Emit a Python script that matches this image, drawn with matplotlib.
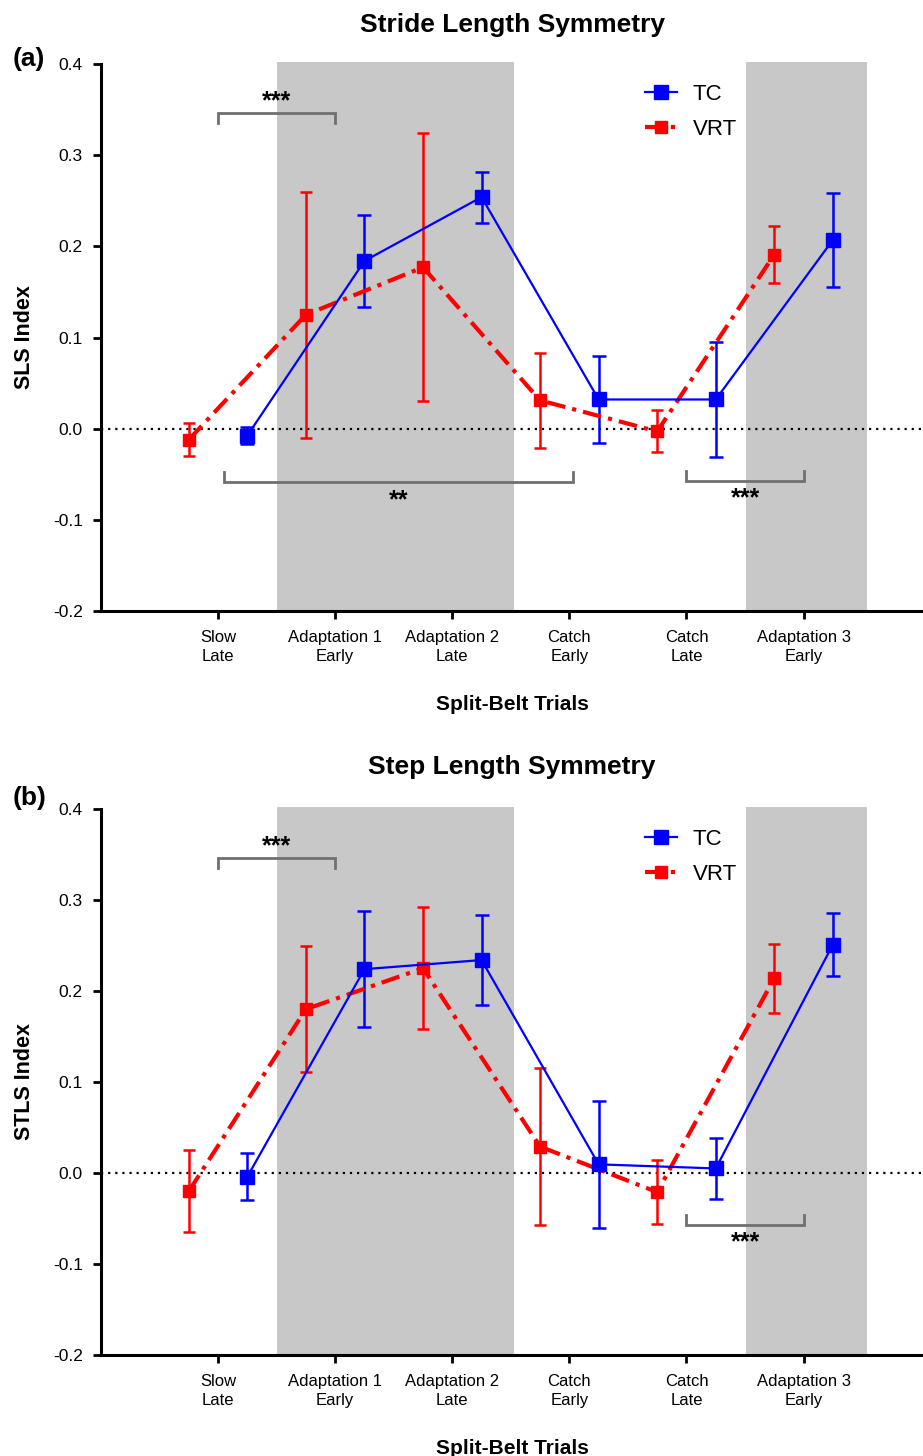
import numpy as np
import matplotlib
matplotlib.use("Agg")
import matplotlib.pyplot as plt

plt.rcParams['font.family'] = ['Liberation Sans', 'DejaVu Sans']

# categories on the x axis
trials = ['Slow\nLate', 'Adaptation 1\nEarly', 'Adaptation 2\nLate',
          'Catch\nEarly', 'Catch\nLate', 'Adaptation 3\nEarly']

# (a) stride length symmetry - means and error bars
sls_tc = [-0.0075, 0.184, 0.254, 0.032, 0.032, 0.207]
sls_tc_err = [0.0095, 0.050, 0.028, 0.048, 0.063, 0.0515]
sls_vrt = [-0.012, 0.125, 0.177, 0.031, -0.003, 0.191]
sls_vrt_err = [0.018, 0.135, 0.147, 0.052, 0.023, 0.031]

# (b) step length symmetry
stls_tc = [-0.004, 0.224, 0.234, 0.0095, 0.005, 0.251]
stls_tc_err = [0.026, 0.064, 0.049, 0.0695, 0.0335, 0.035]
stls_vrt = [-0.020, 0.180, 0.225, 0.029, -0.021, 0.214]
stls_vrt_err = [0.045, 0.069, 0.067, 0.0865, 0.035, 0.038]

# significance brackets: (from trial, to trial, height, stars, stars above?)
sls_brackets = [(1, 2, 0.3465, '***', True), (1.05, 4.03, -0.059, '**', False),
                (5, 6, -0.057, '***', False)]
stls_brackets = [(1, 2, 0.3465, '***', True), (5, 6, -0.057, '***', False)]

# shaded adaptation periods
shaded = [(1.5, 3.53), (5.51, 6.54)]

BLUE = '#0000ff'
RED = '#ff0000'
GREY = '#c8c8c8'
BRACKET = '#707070'

fig = plt.figure(figsize=(9.23, 14.56), dpi=100)
ax_a = fig.add_axes([101 / 923, 1 - 611 / 1456, 822 / 923, 547 / 1456])
ax_b = fig.add_axes([101 / 923, 1 - 1355 / 1456, 822 / 923, 546 / 1456])


def draw_panel(ax, tc, tc_err, vrt, vrt_err, brackets, ylabel):
    pos = np.arange(1, len(trials) + 1)
    x_tc = pos + 0.25
    x_vrt = pos - 0.25

    for lo, hi in shaded:
        ax.axvspan(lo, hi, ymin=0, ymax=1.004, color=GREY, lw=0, zorder=0, clip_on=False)
    ax.axhline(0, color='black', lw=1.6, linestyle=(0, (1, 2.2)), zorder=1)

    ax.errorbar(x_vrt, vrt, yerr=vrt_err, fmt='none', ecolor=RED, elinewidth=1.8,
                capsize=4.5, capthick=1.8, zorder=2)
    ax.errorbar(x_tc, tc, yerr=tc_err, fmt='none', ecolor=BLUE, elinewidth=1.8,
                capsize=4.8, capthick=1.8, zorder=3)
    ax.plot(x_vrt, vrt, color=RED, lw=3, dashes=(4.5, 1.7, 1, 1.7), marker='s',
            markersize=8, label='VRT', zorder=4)
    ax.plot(x_tc, tc, color=BLUE, lw=1.6, marker='s', markersize=9.5,
            label='TC', zorder=5)

    for x0, x1, h, stars, above in brackets:
        d = 0.011 if above else -0.011
        ax.plot([x0, x0, x1, x1], [h - d, h, h, h - d], color=BRACKET, lw=2,
                solid_joinstyle='miter', zorder=3)
        sy = h + 0.0045 if above else h - 0.027
        ax.text((x0 + x1) / 2, sy, stars, ha='center', va='baseline',
                fontsize=18, fontweight='bold')

    ax.set_xlim(0, 7.02)
    ax.set_ylim(-0.2, 0.4)
    ax.set_xticks(pos)
    ax.set_xticklabels(trials, fontsize=12, linespacing=1.3)
    ax.set_yticks(np.arange(-0.2, 0.41, 0.1))
    ax.set_yticklabels(['%.1f' % v for v in np.arange(-0.2, 0.41, 0.1)], fontsize=12.5)
    ax.tick_params(axis='x', length=6, width=2, pad=8)
    ax.tick_params(axis='y', length=6, width=2, pad=7)
    for s in ['top', 'right']:
        ax.spines[s].set_visible(False)
    for s in ['left', 'bottom']:
        ax.spines[s].set_linewidth(2.2)

    ax.set_ylabel(ylabel, fontsize=15.5, fontweight='bold', va='center')
    ax.yaxis.set_label_coords(-0.093, 0.5)
    ax.set_xlabel('Split-Belt Trials', fontsize=15, fontweight='bold', va='center')
    ax.xaxis.set_label_coords(0.5, -0.171)

    handles, labels = ax.get_legend_handles_labels()
    ax.legend(handles[::-1], labels[::-1], loc='upper left', bbox_to_anchor=(0.662, 0.963),
              frameon=False, fontsize=16, handlelength=1.45, handletextpad=0.7,
              labelspacing=0.63, borderpad=0, borderaxespad=0)


draw_panel(ax_a, sls_tc, sls_tc_err, sls_vrt, sls_vrt_err, sls_brackets, 'SLS Index')
draw_panel(ax_b, stls_tc, stls_tc_err, stls_vrt, stls_vrt_err, stls_brackets, 'STLS Index')

title_x = (101 + 923) / 2 / 923
fig.text(title_x, 1 - 32 / 1456, 'Stride Length Symmetry', ha='center', va='baseline',
         fontsize=19, fontweight='bold')
fig.text(title_x, 1 - 774 / 1456, 'Step Length Symmetry', ha='center', va='baseline',
         fontsize=19, fontweight='bold')
fig.text(13 / 923, 1 - 59 / 1456, '(a)', ha='left', va='center', fontsize=19, fontweight='bold')
fig.text(13 / 923, 1 - 798 / 1456, '(b)', ha='left', va='center', fontsize=19, fontweight='bold')

fig.savefig('out.png', dpi=100)
